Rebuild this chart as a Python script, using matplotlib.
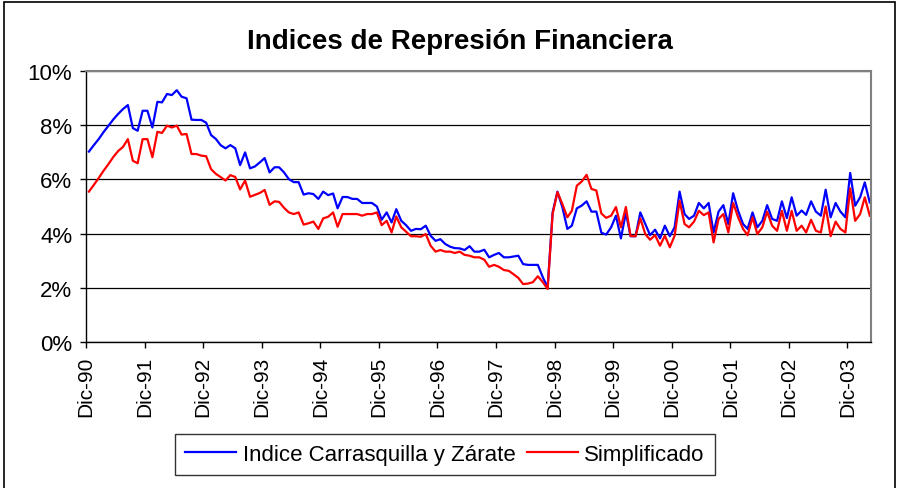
import matplotlib
matplotlib.use("Agg")
import matplotlib.pyplot as plt
import pandas as pd
from matplotlib.patches import Rectangle

plt.rcParams['font.family'] = ['Liberation Sans', 'DejaVu Sans']

# monthly series from Dic-90 to Abr-04 (%)
indice_cz = [
    7.03, 7.27, 7.50, 7.74, 7.98, 8.21, 8.42, 8.60, 8.75, 7.90,
    7.80, 8.54, 8.54, 7.92, 8.87, 8.85, 9.16, 9.12, 9.30, 9.06,
    9.00, 8.21, 8.20, 8.20, 8.10, 7.64, 7.49, 7.27, 7.15, 7.27,
    7.15, 6.53, 7.00, 6.41, 6.48, 6.63, 6.79, 6.26, 6.45, 6.45,
    6.26, 6.01, 5.90, 5.90, 5.44, 5.49, 5.46, 5.28, 5.55, 5.42,
    5.48, 4.93, 5.35, 5.35, 5.28, 5.28, 5.13, 5.13, 5.13, 5.00,
    4.51, 4.78, 4.41, 4.90, 4.47, 4.31, 4.10, 4.17, 4.16, 4.29,
    3.92, 3.73, 3.79, 3.61, 3.51, 3.46, 3.45, 3.39, 3.53, 3.33,
    3.33, 3.40, 3.12, 3.21, 3.28, 3.12, 3.12, 3.15, 3.18, 2.87,
    2.84, 2.84, 2.84, 2.38, 2.01, 4.78, 5.55, 4.97, 4.17, 4.29,
    4.93, 5.03, 5.19, 4.81, 4.81, 4.03, 3.96, 4.23, 4.66, 3.82,
    4.77, 3.90, 3.90, 4.78, 4.35, 3.94, 4.14, 3.82, 4.29, 3.90,
    4.23, 5.55, 4.72, 4.54, 4.66, 5.13, 4.93, 5.13, 4.04, 4.81,
    5.05, 4.35, 5.49, 4.84, 4.35, 4.17, 4.78, 4.23, 4.47, 5.05,
    4.54, 4.47, 5.19, 4.57, 5.34, 4.66, 4.85, 4.69, 5.19, 4.81,
    4.66, 5.62, 4.60, 5.13, 4.81, 4.60, 6.24, 5.03, 5.34, 5.89, 5.15,
]

simplificado = [
    5.55, 5.80, 6.06, 6.31, 6.56, 6.82, 7.05, 7.20, 7.49, 6.69,
    6.60, 7.49, 7.49, 6.82, 7.76, 7.72, 7.99, 7.92, 7.99, 7.66,
    7.68, 6.94, 6.94, 6.88, 6.86, 6.38, 6.20, 6.09, 5.96, 6.16,
    6.09, 5.63, 5.96, 5.36, 5.43, 5.50, 5.61, 5.06, 5.19, 5.17,
    4.95, 4.78, 4.72, 4.78, 4.33, 4.38, 4.44, 4.17, 4.56, 4.62,
    4.78, 4.25, 4.72, 4.72, 4.72, 4.72, 4.66, 4.72, 4.72, 4.78,
    4.31, 4.47, 4.04, 4.63, 4.23, 4.07, 3.90, 3.90, 3.88, 3.98,
    3.55, 3.33, 3.39, 3.33, 3.33, 3.28, 3.33, 3.21, 3.18, 3.12,
    3.12, 3.03, 2.77, 2.84, 2.77, 2.65, 2.62, 2.50, 2.36, 2.13,
    2.15, 2.20, 2.42, 2.20, 1.95, 4.72, 5.53, 5.09, 4.60, 4.84,
    5.77, 5.92, 6.17, 5.65, 5.59, 4.74, 4.58, 4.66, 4.98, 4.23,
    4.98, 3.91, 3.90, 4.56, 3.98, 3.77, 3.94, 3.55, 3.92, 3.49,
    3.92, 5.21, 4.35, 4.23, 4.44, 4.84, 4.68, 4.78, 3.67, 4.54,
    4.72, 4.04, 5.13, 4.60, 4.17, 3.94, 4.60, 3.98, 4.23, 4.81,
    4.29, 4.10, 4.84, 4.10, 4.84, 4.10, 4.29, 4.04, 4.51, 4.10,
    4.04, 5.00, 3.90, 4.44, 4.17, 4.04, 5.67, 4.47, 4.72, 5.34, 4.66,
]

tick_labels = ['Dic-90', 'Dic-91', 'Dic-92', 'Dic-93', 'Dic-94', 'Dic-95', 'Dic-96',
               'Dic-97', 'Dic-98', 'Dic-99', 'Dic-00', 'Dic-01', 'Dic-02', 'Dic-03']
y_ticks = [0, 2, 4, 6, 8, 10]

dates = pd.date_range('1990-12-01', periods=len(indice_cz), freq='MS') + pd.Timedelta(days=18)
tick_dates = pd.date_range('1990-12-01', periods=len(tick_labels), freq='12MS')

fig = plt.figure(figsize=(8.97, 4.89), dpi=100)
ax = fig.add_axes([0.0959, 0.2992, 0.8748, 0.5530])

ax.plot(dates, indice_cz, color='#0000FF', lw=1.6, label='Indice Carrasquilla y Zárate')
ax.plot(dates, simplificado, color='#FF0000', lw=1.6, label='Simplificado')

ax.set_xlim(tick_dates[0], dates[-1] + pd.Timedelta(days=6))
ax.set_ylim(0, 10)
ax.set_yticks(y_ticks)
ax.set_yticklabels([f'{v}%' for v in y_ticks], fontsize=16)
ax.set_xticks(tick_dates)
ax.set_xticklabels(tick_labels, rotation=90, fontsize=15)
ax.tick_params(axis='both', direction='out', length=4, width=1, color='black')
ax.tick_params(axis='y', pad=6)
ax.tick_params(axis='x', pad=6)

ax.yaxis.grid(True, color='black', lw=0.9)
ax.set_axisbelow(True)
for s in ['top', 'right']:
    ax.spines[s].set_color('#808080')
    ax.spines[s].set_linewidth(1.5)
for s in ['left', 'bottom']:
    ax.spines[s].set_color('black')
    ax.spines[s].set_linewidth(1)

fig.text(0.513, 0.914, 'Indices de Represión Financiera', ha='center', va='center',
         fontsize=20, fontweight='bold')

leg = fig.legend(loc='center', bbox_to_anchor=(0.496, 0.068), ncol=2, fontsize=16,
                 frameon=True, fancybox=False, edgecolor='black', handlelength=2.3,
                 handletextpad=0.3, columnspacing=0.5, borderpad=0.45)
leg.get_frame().set_linewidth(1)

fig.add_artist(Rectangle((4 / 897, -0.05), 891 / 897, 1.05 - 3 / 489, transform=fig.transFigure,
                         fill=False, edgecolor='black', lw=1.2))

fig.savefig('out.png', dpi=100)
